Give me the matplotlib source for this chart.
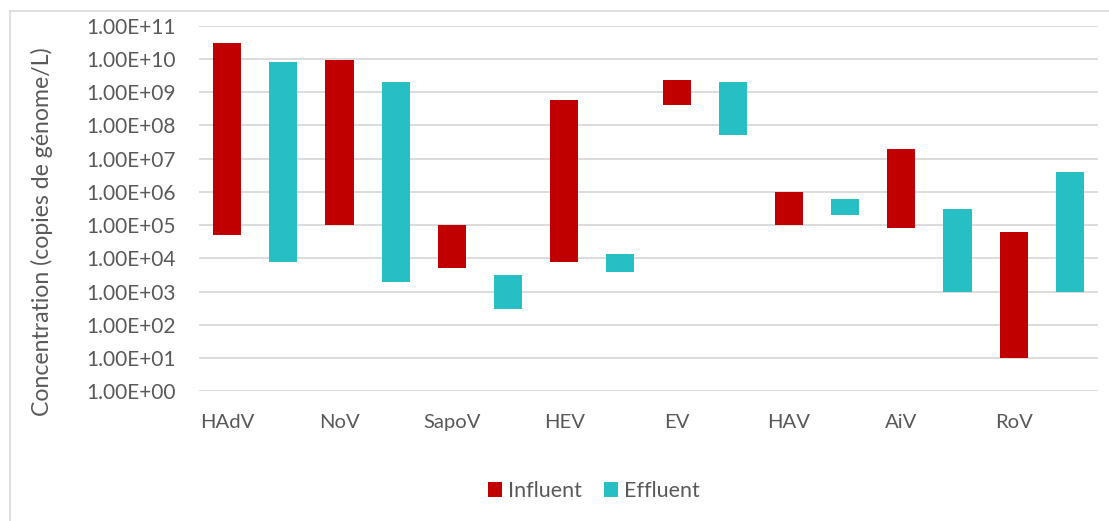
import matplotlib
matplotlib.use("Agg")
import matplotlib.pyplot as plt
from matplotlib.ticker import FixedLocator, FuncFormatter, NullLocator
from matplotlib.patches import Patch
from matplotlib.lines import Line2D

categories = ['HAdV', 'NoV', 'SapoV', 'HEV', 'EV', 'HAV', 'AiV', 'RoV']
influent_min = [5e4, 1e5, 5e3, 8e3, 4e8, 1e5, 8e4, 1e1]
influent_max = [3e10, 9e9, 1e5, 6e8, 2.3e9, 1e6, 2e7, 6e4]
effluent_min = [8e3, 2e3, 3e2, 4e3, 5e7, 2e5, 1e3, 1e3]
effluent_max = [8e9, 2e9, 3.2e3, 1.35e4, 2e9, 6e5, 3e5, 4e6]
series_names = ['Influent', 'Effluent']
y_ticks = [10.0 ** k for k in range(0, 12)]

RED = '#C00000'
TEAL = '#27BFC4'
TXT = '#595959'
GRID = '#D9D9D9'
FONT = ['Lato', 'DejaVu Sans']

plt.rcParams['font.family'] = FONT

fig = plt.figure(figsize=(11.09, 5.21), dpi=100)
ax = fig.add_axes([199 / 1109, 1 - 391.3 / 521, (1098 - 199) / 1109, (391.3 - 25.7) / 521])

n = len(categories)
x_inf = [2 * i for i in range(n)]
x_eff = [2 * i + 1 for i in range(n)]
ax.bar(x_inf, [h - l for h, l in zip(influent_max, influent_min)], bottom=influent_min,
       width=0.5, color=RED, zorder=3)
ax.bar(x_eff, [h - l for h, l in zip(effluent_max, effluent_min)], bottom=effluent_min,
       width=0.5, color=TEAL, zorder=3)

ax.set_yscale('log')
ax.set_ylim(1, 1e11)
ax.set_xlim(-0.5, 2 * n - 0.5)
ax.yaxis.set_major_locator(FixedLocator(y_ticks))
ax.yaxis.set_minor_locator(NullLocator())
ax.yaxis.set_major_formatter(FuncFormatter(lambda v, p: f"{v:.2E}"))
ax.set_xticks(x_inf)
ax.set_xticklabels(categories)
ax.grid(axis='y', color=GRID, linewidth=1.3, zorder=0)
ax.set_axisbelow(True)
for s in ax.spines.values():
    s.set_visible(False)
ax.tick_params(axis='y', length=0, labelsize=15, colors=TXT, pad=16.5)
ax.tick_params(axis='x', length=0, labelsize=14.6, colors=TXT, pad=16)

fig.text(42 / 1109, 1 - 232 / 521, 'Concentration (copies de génome/L)', rotation=90,
         ha='center', va='center', fontsize=16.6, color=TXT)

# chart border (left and top)
fig.add_artist(Line2D([10 / 1109, 10 / 1109], [0, 1 - 11 / 521], transform=fig.transFigure,
                      color=GRID, linewidth=1.2))
fig.add_artist(Line2D([10 / 1109, 1], [1 - 11 / 521, 1 - 11 / 521], transform=fig.transFigure,
                      color=GRID, linewidth=1.2))

handles = [Patch(facecolor=RED, label=series_names[0]), Patch(facecolor=TEAL, label=series_names[1])]
leg = fig.legend(handles=handles, loc='center', bbox_to_anchor=(594 / 1109, 1 - 491 / 521),
                 ncol=2, frameon=False, fontsize=15.5, handlelength=0.65, handleheight=0.65,
                 handletextpad=0.3, columnspacing=1.0)
for t in leg.get_texts():
    t.set_color(TXT)

fig.savefig('out.png', dpi=100)
